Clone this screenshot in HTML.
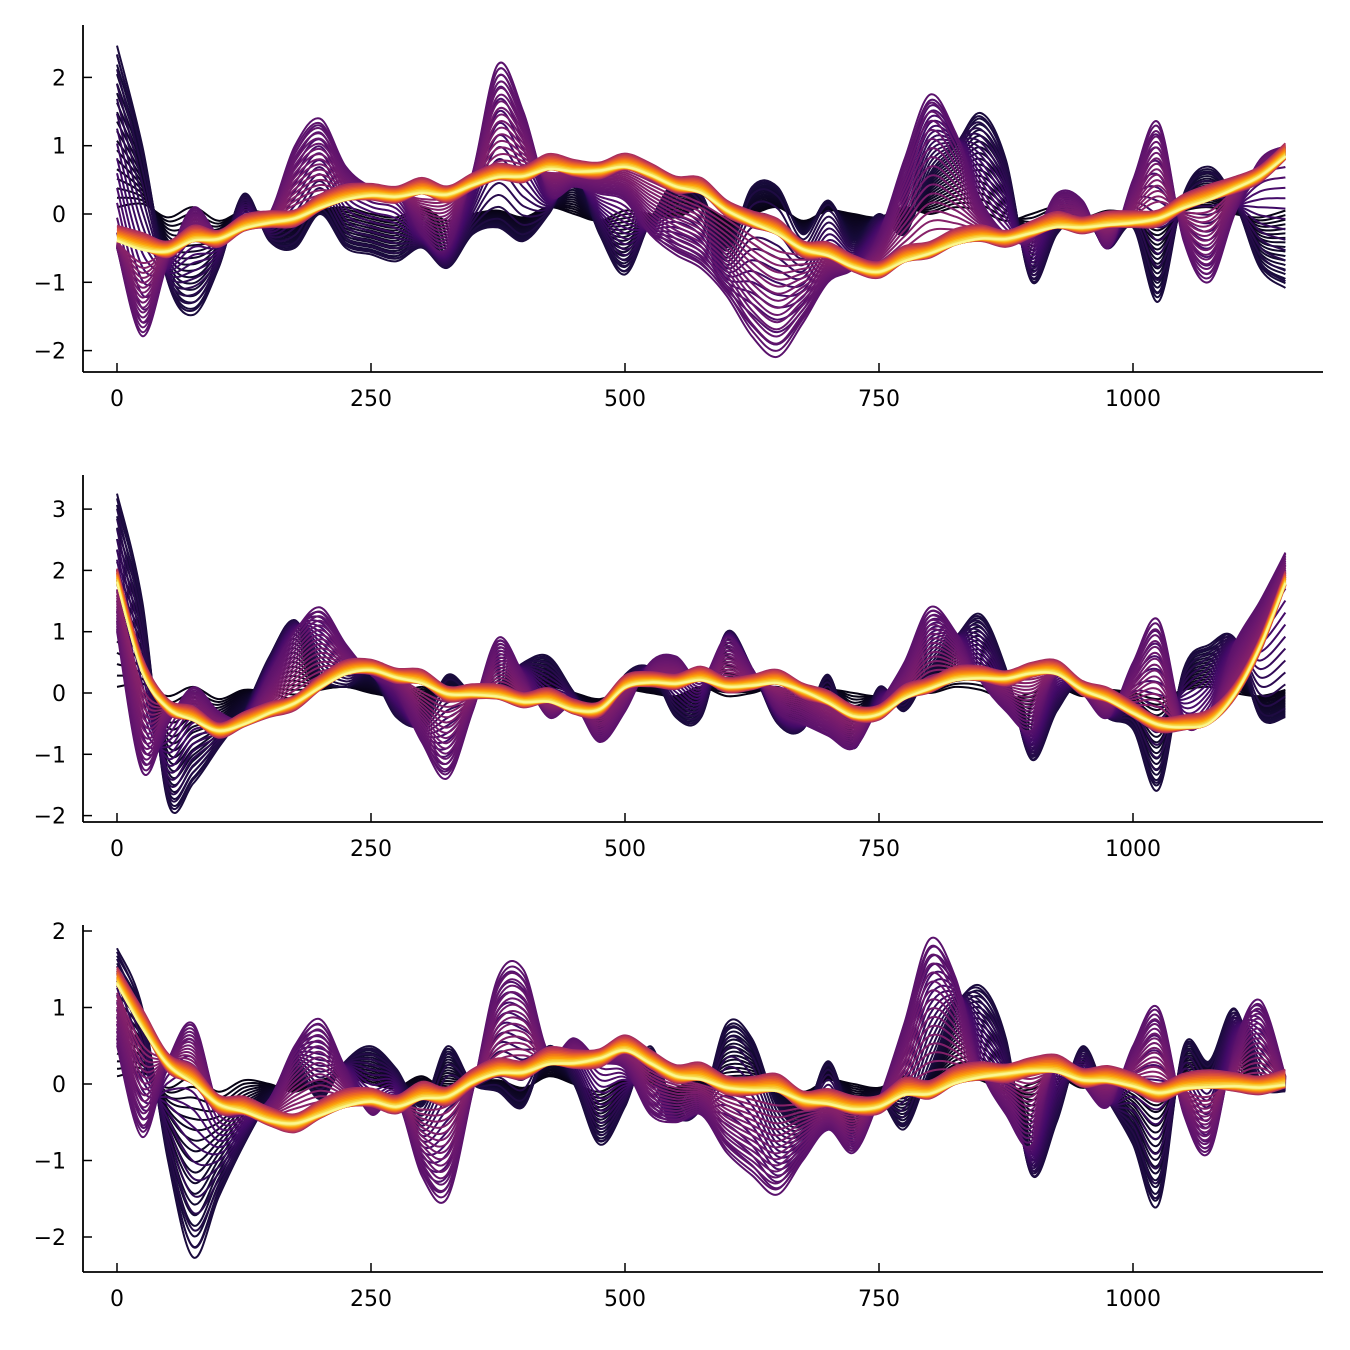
<!DOCTYPE html>
<html><head><meta charset="utf-8">
<style>
html,body{margin:0;padding:0;background:#fff;}
svg{display:block;font-family:"DejaVu Sans","Liberation Sans",sans-serif;}
</style></head>
<body>
<svg id="chart" width="1350" height="1350" viewBox="0 0 1350 1350" xmlns="http://www.w3.org/2000/svg"></svg>
<script>
// x sample grid values (step 25, 0..1150)
const xSamples = [];
for (let i = 0; i <= 46; i++) xSamples.push(i * 25);
const xTicks = [0, 250, 500, 750, 1000];
const xTickLabels = ["0", "250", "500", "750", "1000"];

// shared small noise (darkest lines)
const noiseVals = [0.1,0.15,-0.05,0.1,-0.1,0.05,0.0,-0.1,0.05,0.1,0.0,-0.05,0.1,-0.1,0.0,0.05,-0.05,0.1,0.0,-0.1,0.05,0.0,-0.05,0.1,-0.05,0.0,0.1,-0.1,0.05,0.0,-0.05,0.1,0.0,0.1,0.05,-0.1,0.0,0.1,-0.05,0.05,0.0,-0.1,0.05,0.1,0.0,-0.05,0.05];

// Panel 1
const p1Smooth = [-0.4,-0.55,-0.5,-0.4,-0.3,-0.2,-0.1,0.0,0.1,0.2,0.3,0.3,0.3,0.35,0.45,0.55,0.6,0.65,0.65,0.7,0.7,0.6,0.45,0.3,0.1,-0.1,-0.3,-0.45,-0.6,-0.75,-0.8,-0.7,-0.55,-0.45,-0.35,-0.3,-0.25,-0.2,-0.15,-0.15,-0.1,0.0,0.1,0.2,0.4,0.6,0.85];
const p1Purple = [-0.5,-1.8,-0.7,0.1,-0.3,-0.2,0.0,1.0,1.4,0.7,0.4,0.3,-0.3,-0.5,0.6,2.2,1.5,0.3,0.4,0.3,0.2,-0.3,-0.6,-0.8,-1.2,-1.8,-2.1,-1.6,-1.0,-0.8,-0.3,0.8,1.75,1.2,0.2,-0.3,-0.4,0.3,0.2,-0.5,0.5,1.35,-0.4,-1.0,0.0,0.8,1.0];
const p1Dark = [2.5,1.0,-1.0,-1.5,-0.8,0.3,-0.4,-0.5,0.0,-0.5,-0.6,-0.7,-0.5,-0.8,-0.3,-0.2,-0.4,0.0,0.6,-0.3,-0.9,-0.1,0.5,0.3,-0.5,0.4,0.4,-0.3,0.2,-0.4,0.0,-0.3,0.6,1.0,1.5,0.8,-1.0,-0.3,0.0,-0.5,-0.2,-1.3,0.3,0.7,0.2,-0.8,-1.1];
const p1YTicks = [-2,-1,0,1,2];

// Panel 2
const p2Smooth = [1.8,0.3,-0.2,-0.45,-0.55,-0.5,-0.3,-0.1,0.1,0.3,0.4,0.3,0.15,0.05,0.0,-0.05,-0.1,-0.15,-0.25,-0.2,0.1,0.2,0.2,0.2,0.15,0.15,0.15,0.1,-0.15,-0.35,-0.3,-0.1,0.1,0.2,0.25,0.3,0.35,0.3,0.1,-0.1,-0.3,-0.45,-0.55,-0.5,0.0,0.8,1.8];
const p2Purple = [1.0,-1.3,-0.5,0.1,-0.3,-0.4,0.3,1.0,1.4,0.8,0.3,0.0,-0.8,-1.4,-0.3,0.9,0.3,-0.4,-0.2,-0.8,-0.3,0.5,0.6,0.2,0.9,0.4,-0.3,-0.5,-0.7,-0.9,-0.2,0.5,1.4,1.0,0.2,-0.3,-0.6,0.3,0.0,-0.4,0.5,1.2,-0.5,-0.3,0.8,1.5,2.3];
const p2Dark = [3.3,1.5,-1.8,-1.5,-0.9,-0.3,0.6,1.2,0.3,0.1,0.3,-0.4,-0.5,0.3,0.0,0.1,0.5,0.6,0.0,-0.5,0.3,0.4,-0.4,-0.4,1.0,0.4,-0.5,-0.6,0.3,-0.9,0.1,-0.3,0.4,0.9,1.3,0.4,-1.1,-0.3,0.2,-0.4,-0.6,-1.6,0.4,0.8,0.9,-0.4,-0.4];
const p2YTicks = [-2,-1,0,1,2,3];

// Panel 3
const p3Smooth = [1.3,0.7,0.3,0.0,-0.2,-0.35,-0.45,-0.45,-0.4,-0.3,-0.2,-0.25,-0.2,-0.1,0.05,0.15,0.2,0.25,0.3,0.4,0.45,0.3,0.15,0.05,0.0,-0.05,-0.1,-0.15,-0.25,-0.3,-0.25,-0.15,-0.1,0.0,0.1,0.2,0.2,0.15,0.1,0.05,0.0,-0.05,-0.05,-0.05,0.0,0.0,0.0];
const p3Purple = [0.5,-0.7,0.3,0.8,-0.3,-0.4,-0.2,0.5,0.85,0.2,-0.4,-0.2,-1.2,-1.5,-0.1,1.4,1.5,0.4,0.6,0.3,0.2,-0.4,-0.5,-0.4,-0.9,-1.2,-1.45,-1.0,-0.6,-0.9,-0.2,0.8,1.9,1.4,0.2,-0.4,-0.8,0.3,0.0,-0.3,0.5,1.0,-0.4,-0.9,0.5,1.1,0.1];
const p3Dark = [1.8,1.0,-1.0,-2.3,-1.5,-0.8,-0.2,0.2,-0.2,0.3,0.5,0.2,-0.3,0.5,0.0,-0.1,-0.3,0.5,0.0,-0.8,-0.3,0.5,-0.4,-0.3,0.8,0.6,-0.3,-0.5,0.3,-0.5,-0.2,-0.6,0.2,1.0,1.3,0.6,-1.2,-0.5,0.5,-0.2,-0.8,-1.6,0.5,0.3,1.0,0.0,-0.1];
const p3YTicks = [-2,-1,0,1,2];

const panels = [
  {name:"panel-1", top:25, bottom:372, y0:214, pxPer:68.3, smooth:p1Smooth, purple:p1Purple, dark:p1Dark, yTicks:p1YTicks},
  {name:"panel-2", top:475, bottom:822, y0:693, pxPer:61.3, smooth:p2Smooth, purple:p2Purple, dark:p2Dark, yTicks:p2YTicks},
  {name:"panel-3", top:925, bottom:1272, y0:1084, pxPer:76.5, smooth:p3Smooth, purple:p3Purple, dark:p3Dark, yTicks:p3YTicks}
];

const NS = "http://www.w3.org/2000/svg";
const svg = document.getElementById("chart");
const AX_L = 83, AX_R = 1323;
function xScale(v){ return 117 + v * 1.016; }

const inferno = [[0,0,4],[22,11,57],[66,10,104],[106,23,110],[147,38,103],[188,55,84],[221,81,58],[243,120,25],[252,165,10],[246,215,70],[252,255,164]];
function infernoColor(t){
  t = Math.max(0, Math.min(1, t));
  const p = t * 10, i = Math.min(9, Math.floor(p)), f = p - i;
  const a = inferno[i], b = inferno[i+1];
  return "rgb(" + [0,1,2].map(j => Math.round(a[j] + (b[j]-a[j])*f)).join(",") + ")";
}
function pathFrom(pts){
  let d = "M" + pts[0][0].toFixed(1) + "," + pts[0][1].toFixed(1);
  for (let i = 0; i < pts.length - 1; i++) {
    const p0 = pts[Math.max(0,i-1)], p1 = pts[i], p2 = pts[i+1], p3 = pts[Math.min(pts.length-1,i+2)];
    const c1x = p1[0] + (p2[0]-p0[0])/6, c1y = p1[1] + (p2[1]-p0[1])/6;
    const c2x = p2[0] - (p3[0]-p1[0])/6, c2y = p2[1] - (p3[1]-p1[1])/6;
    d += "C" + c1x.toFixed(1) + "," + c1y.toFixed(1) + " " + c2x.toFixed(1) + "," + c2y.toFixed(1) + " " + p2[0].toFixed(1) + "," + p2[1].toFixed(1);
  }
  return d;
}

const NLINES = 70;
panels.forEach((P, pi) => {
  const g = document.createElementNS(NS, "g");
  
  
  svg.appendChild(g);
  const yScale = v => P.y0 - v * P.pxPer;

  const lines = document.createElementNS(NS, "g");
  
  
  g.appendChild(lines);
  for (let k = 0; k < NLINES; k++) {
    const t = k / (NLINES - 1);
    let vals, ct;
    if (t < 0.25) {
      const s = t / 0.25;
      vals = noiseVals.map((a, i) => a + (P.dark[i] - a) * s);
      ct = 0.03 + 0.08 * s;
    } else if (t < 0.45) {
      const s = (t - 0.25) / 0.2;
      vals = P.dark.map((a, i) => a + (P.purple[i] - a) * s);
      ct = 0.11 + 0.15 * s;
    } else if (t < 0.68) {
      const s = (t - 0.45) / 0.23;
      vals = P.purple.map((a, i) => a + (P.smooth[i] - a) * s * 0.92);
      ct = 0.26 + 0.12 * s;
    } else {
      const u = (t - 0.68) / 0.32;
      const sgn = (k % 2 === 0) ? 1 : -1;
      vals = P.smooth.map((a, i) => a + noiseVals[i] * 0.9 * (1 - 0.6 * u) + sgn * 0.12 * (1 - u) + 0.06 * (0.5 - u));
      ct = 0.42 + 0.56 * u;
    }
    const pts = xSamples.map((xv, i) => [xScale(xv), yScale(vals[i])]);
    const path = document.createElementNS(NS, "path");
    
    
    path.setAttribute("d", pathFrom(pts));
    path.setAttribute("fill", "none");
    path.setAttribute("stroke", infernoColor(ct));
    path.setAttribute("stroke-width", "2");
    lines.appendChild(path);
  }

  // axes
  const yAxis = document.createElementNS(NS, "line");
  
  
  yAxis.setAttribute("x1", AX_L); yAxis.setAttribute("x2", AX_L);
  yAxis.setAttribute("y1", P.top); yAxis.setAttribute("y2", P.bottom);
  yAxis.setAttribute("stroke", "#000"); yAxis.setAttribute("stroke-width", "1.8");
  g.appendChild(yAxis);
  const xAxis = document.createElementNS(NS, "line");
  
  
  xAxis.setAttribute("x1", AX_L); xAxis.setAttribute("x2", AX_R);
  xAxis.setAttribute("y1", P.bottom); xAxis.setAttribute("y2", P.bottom);
  xAxis.setAttribute("stroke", "#000"); xAxis.setAttribute("stroke-width", "1.8");
  g.appendChild(xAxis);

  xTicks.forEach((v, i) => {
    const tk = document.createElementNS(NS, "line");
    
    
    tk.setAttribute("x1", xScale(v)); tk.setAttribute("x2", xScale(v));
    tk.setAttribute("y1", P.bottom); tk.setAttribute("y2", P.bottom - 9);
    tk.setAttribute("stroke", "#000"); tk.setAttribute("stroke-width", "1.5");
    g.appendChild(tk);
    const tx = document.createElementNS(NS, "text");
    
    
    tx.setAttribute("x", xScale(v)); tx.setAttribute("y", P.bottom + 34);
    tx.setAttribute("text-anchor", "middle"); tx.setAttribute("font-size", "22");
    tx.textContent = xTickLabels[i];
    g.appendChild(tx);
  });
  P.yTicks.forEach(v => {
    const yy = yScale(v);
    const tk = document.createElementNS(NS, "line");
    
    
    tk.setAttribute("x1", AX_L); tk.setAttribute("x2", AX_L + 9);
    tk.setAttribute("y1", yy); tk.setAttribute("y2", yy);
    tk.setAttribute("stroke", "#000"); tk.setAttribute("stroke-width", "1.5");
    g.appendChild(tk);
    const tx = document.createElementNS(NS, "text");
    
    
    tx.setAttribute("x", 66); tx.setAttribute("y", yy + 8);
    tx.setAttribute("text-anchor", "end"); tx.setAttribute("font-size", "22");
    tx.textContent = v < 0 ? "\u2212" + Math.abs(v) : String(v);
    g.appendChild(tx);
  });
});
</script>
</body></html>
